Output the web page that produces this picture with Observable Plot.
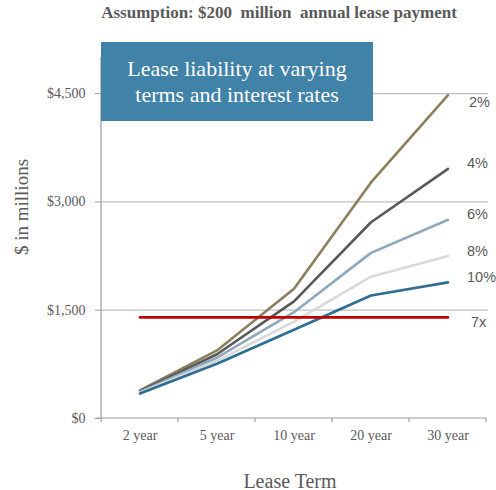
<!DOCTYPE html>
<html><head><meta charset="utf-8">
<script src="https://cdn.jsdelivr.net/npm/d3@7"></script>
<script src="https://cdn.jsdelivr.net/npm/@observablehq/plot@0.6"></script>
<style>
body{margin:0;background:#fff;}
#wrap{position:relative;width:496px;height:490px;overflow:hidden;}
.t{position:absolute;font-family:"Liberation Serif","DejaVu Serif",serif;color:#595959;white-space:nowrap;}
</style></head><body>
<div id="wrap"></div>
<script>
const terms = ["2 year","5 year","10 year","20 year","30 year"];
const rates = ["2%","4%","6%","8%","10%"];
const v2  = [388, 943, 1797, 3270, 4479];
const v4  = [377, 890, 1622, 2718, 3458];
const v6  = [367, 842, 1472, 2294, 2753];
const v8  = [357, 799, 1342, 1964, 2252];
const v10 = [347, 758, 1229, 1703, 1885];
const multiple = 1400; // 7x annual payment
const multipleLabel = "7x";
const yTicks = [0, 1500, 3000, 4500];
const colors = ["#8C7F5B","#595959","#8FA9BC","#D9D9D9","#2E6E94"];

const series = [v2, v4, v6, v8, v10];
const data = [];
series.forEach((arr, i) => arr.forEach((v, j) => data.push({rate: rates[i], term: terms[j], value: v})));
const last = rates.map((r, i) => ({rate: r, term: terms[terms.length-1], value: series[i][terms.length-1]}));
const ref = terms.map(t => ({term: t, value: multiple}));
const lblFont = "Liberation Sans, Arial, sans-serif";

const chart = Plot.plot({
  width: 496, height: 490,
  marginTop: 57, marginBottom: 72, marginLeft: 99, marginRight: 8,
  style: {fontFamily: "Liberation Serif, serif", fontSize: "14px", color: "#595959", background: "#fff"},
  x: {type: "band", domain: terms, padding: 0, label: null},
  y: {domain: [0, 5000], label: null},
  color: {domain: rates, range: colors},
  marks: [
    Plot.ruleY(yTicks.filter(d => d > 0), {stroke: "#BFBFBF", strokeWidth: 1.2}),
    Plot.axisY({ticks: yTicks, tickFormat: d => "$" + d3.format(",")(d), tickSize: 4, tickPadding: 10, stroke: "#9a9a9a", fill: "#595959", fontSize: 14}),
    Plot.axisX({tickSize: 0, tickPadding: 12, fill: "#595959", fontSize: 14}),
    Plot.line(data, {x: "term", y: "value", z: "rate", stroke: "rate", strokeWidth: 2.6}),
    Plot.line(ref, {x: "term", y: "value", stroke: "#C00000", strokeWidth: 2.6}),
    Plot.text(last.filter(d => d.rate === "2%"), {x: "term", y: "value", text: "rate", dx: 21, dy: 7, textAnchor: "start", fill: "#595959", fontFamily: lblFont, fontSize: 14.5}),
    Plot.text(last.filter(d => d.rate !== "2%"), {x: "term", y: "value", text: "rate", dx: 19, dy: -5, textAnchor: "start", fill: "#595959", fontFamily: lblFont, fontSize: 14.5}),
    Plot.text([{term: terms[terms.length-1], value: multiple}], {x: "term", y: "value", text: () => multipleLabel, dx: 23, dy: 5, textAnchor: "start", fill: "#595959", fontFamily: lblFont, fontSize: 14.5})
  ]
});

// frame lines: left axis and bottom axis with band-boundary ticks
const svg = d3.select(chart);
const xs = chart.scale("x"), ys = chart.scale("y");
const bw = xs.bandwidth;
const x0 = xs.apply(terms[0]);
const xEnd = xs.apply(terms[terms.length-1]) + bw;
const yb = ys.apply(0), yt = ys.apply(5000);
const g = svg.append("g").attr("stroke", "#9a9a9a").attr("stroke-width", 1.2);
g.append("line").attr("x1", x0).attr("x2", x0).attr("y1", yt).attr("y2", yb);
g.append("line").attr("x1", x0 - 4).attr("x2", xEnd).attr("y1", yb).attr("y2", yb);
for (let i = 0; i <= terms.length; i++) {
  const xx = x0 + i * bw;
  g.append("line").attr("x1", xx).attr("x2", xx).attr("y1", yb).attr("y2", yb + 4);
}
svg.selectAll("g[aria-label='line']").raise();
svg.selectAll("g[aria-label='text']").raise();

const wrap = document.getElementById("wrap");
wrap.appendChild(chart);

function add(html, css) {
  const d = document.createElement("div");
  d.className = "t"; d.innerHTML = html; d.style.cssText += css; wrap.appendChild(d); return d;
}
add("Assumption: $200&nbsp; million&nbsp; annual lease payment", "left:279px;top:13px;transform:translate(-50%,-50%);font-size:17px;font-weight:bold;");
add("Lease liability at varying<br>terms and interest rates", "left:101px;top:42px;width:272px;height:79px;background:#4182A8;color:#fff;font-size:22px;line-height:26px;text-align:center;padding-top:14px;box-sizing:border-box;");
add("$ in millions", "left:22px;top:207px;font-size:19px;transform:translate(-50%,-50%) rotate(-90deg);");
add("Lease Term", "left:290px;top:481px;font-size:20px;transform:translate(-50%,-50%);");
</script>
</body></html>
